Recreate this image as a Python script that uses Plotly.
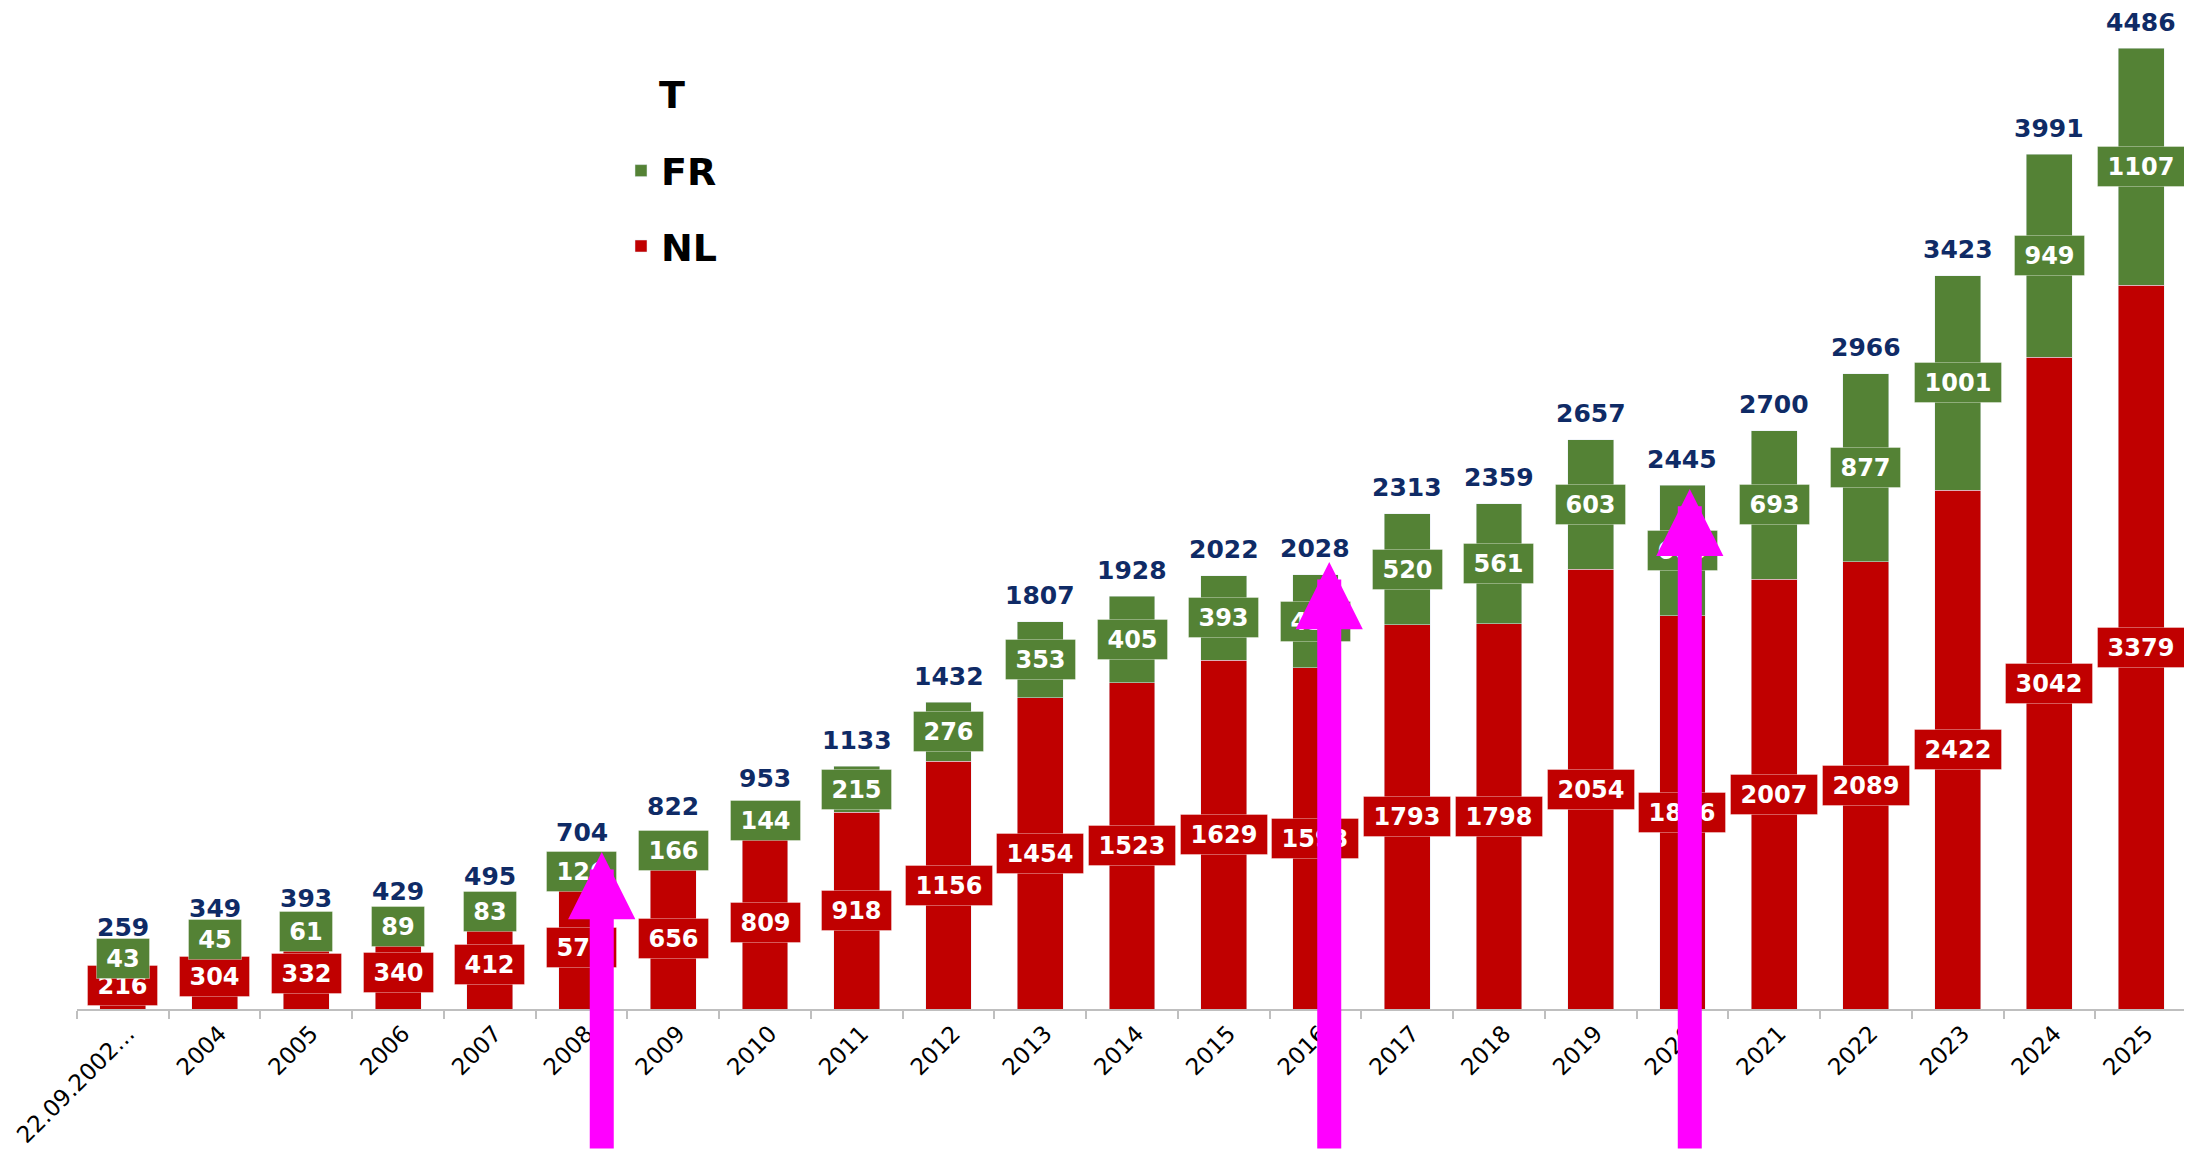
import plotly.graph_objects as go

categories = ["22.09.2002…", "2004", "2005", "2006", "2007", "2008", "2009", "2010", "2011",
              "2012", "2013", "2014", "2015", "2016", "2017", "2018", "2019", "2020", "2021",
              "2022", "2023", "2024", "2025"]
nl_values = [216, 304, 332, 340, 412, 578, 656, 809, 918, 1156, 1454, 1523, 1629, 1593,
             1793, 1798, 2054, 1836, 2007, 2089, 2422, 3042, 3379]
fr_values = [43, 45, 61, 89, 83, 126, 166, 144, 215, 276, 353, 405, 393, 435,
             520, 561, 603, 609, 693, 877, 1001, 949, 1107]
totals = [259, 349, 393, 429, 495, 704, 822, 953, 1133, 1432, 1807, 1928, 2022, 2028,
          2313, 2359, 2657, 2445, 2700, 2966, 3423, 3991, 4486]
arrow_categories = ["2008", "2016", "2020"]
arrow_targets = [733, 2087, 2428]

RED = "#C00000"
GREEN = "#548235"
NAVY = "#0F2B66"
FONT = "DejaVu Sans"

# page body has an 8px default margin, so the figure is 8px smaller
W, H = 2184, 1142
M_L, M_R, M_T, M_B = 69, 5, 12, 141
Y_MAX = 4617
plot_h = H - M_T - M_B
px_per_unit = plot_h / Y_MAX

fig = go.Figure()
fig.add_trace(go.Bar(x=categories, y=nl_values, name="NL", marker_color=RED,
                     legendgroup="nl", legendrank=2, hoverinfo="x+y+name"))
fig.add_trace(go.Bar(x=categories, y=fr_values, name="FR", marker_color=GREEN,
                     legendgroup="fr", legendrank=1, hoverinfo="x+y+name"))

annotations = []


def label_box(idx, yval, txt, color):
    n = len(txt)
    return dict(x=idx, y=yval, xref="x", yref="y", text=txt, showarrow=False,
                font=dict(family=FONT, size=24, color="white", weight="bold"),
                bgcolor=color, borderpad=4, width=n * 17 + 10, height=31,
                bordercolor="rgba(255,255,255,0.35)", borderwidth=1,
                xanchor="center", yanchor="middle")


for i, v in enumerate(nl_values):
    annotations.append(label_box(i, v / 2, str(v), RED))
for i, (n, f) in enumerate(zip(nl_values, fr_values)):
    annotations.append(label_box(i, n + f / 2, str(f), GREEN))
for i, t in enumerate(totals):
    annotations.append(dict(x=i, y=t, xref="x", yref="y", text=str(t), showarrow=False,
                            font=dict(family=FONT, size=25, color=NAVY, weight="bold"),
                            xanchor="center", yanchor="middle", yshift=26))

arrow_offsets = [0.22, 0.15, 0.08]
for c, tip, off in zip(arrow_categories, arrow_targets, arrow_offsets):
    idx = categories.index(c)
    annotations.append(dict(x=idx + off, y=tip, xref="x", yref="y", text="",
                            showarrow=True, arrowhead=2, arrowsize=0.56, arrowwidth=24,
                            arrowcolor="#FF00FF", standoff=0, ax=0,
                            ay=M_B + tip * px_per_unit + 4, axref="pixel", ayref="pixel"))

fig.update_layout(
    width=W, height=H,
    margin=dict(l=M_L, r=M_R, t=M_T, b=M_B, pad=0, autoexpand=False),
    barmode="stack", bargap=0.5,
    plot_bgcolor="white", paper_bgcolor="white",
    font=dict(family=FONT, color="black"),
    showlegend=True,
    legend=dict(
        title=dict(text="<span style='font-size:38px'>T</span><br>&nbsp;", side="top center",
                   font=dict(family=FONT, size=24, color="black", weight="bold")),
        font=dict(family=FONT, size=38, color="black", weight="bold"),
        traceorder="grouped", tracegroupgap=23,
        x=(621 - 8 - M_L) / (W - M_L - M_R), y=1 - 57 / plot_h,
        xanchor="left", yanchor="top", bgcolor="rgba(0,0,0,0)",
    ),
    xaxis=dict(
        type="category", categoryorder="array", categoryarray=categories,
        range=[-0.5, len(categories) - 0.5], tickangle=-45, tickson="boundaries",
        ticks="outside", ticklen=8, tickcolor="#BFBFBF", tickwidth=2, automargin=False,
        ticklabelshift=5,
        showline=True, linecolor="#BFBFBF", linewidth=2, showgrid=False,
        tickfont=dict(family=FONT, size=23, color="black"),
    ),
    yaxis=dict(visible=False, range=[0, Y_MAX], showgrid=False, zeroline=False,
               automargin=False),
    annotations=annotations,
)

fig.write_html("out.html")
